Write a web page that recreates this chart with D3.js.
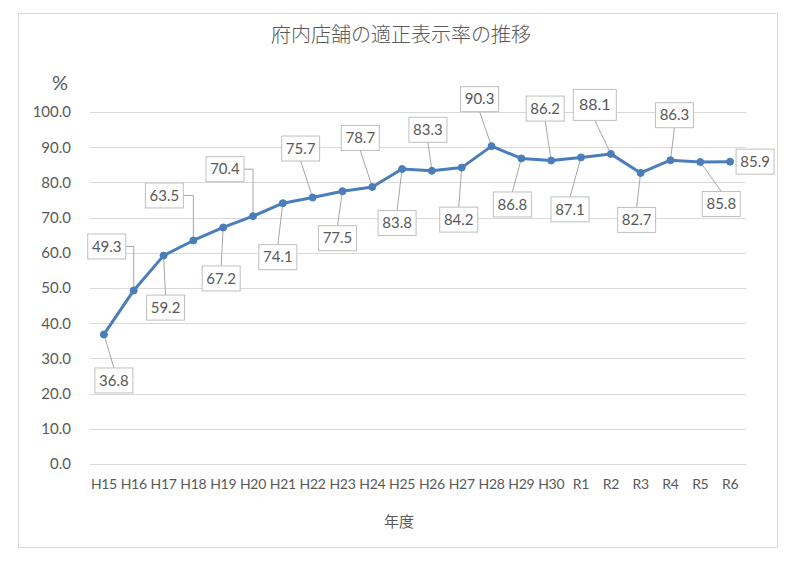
<!DOCTYPE html>
<html>
<head>
<meta charset="utf-8">
<script src="https://cdn.jsdelivr.net/npm/d3@7"></script>
<style>
  html, body { margin: 0; padding: 0; background: #fff; }
  svg { display: block; }
  text { font-family: Lato, "Noto Sans", sans-serif; fill: #595959; }
  .cjk { font-family: "Noto Sans CJK JP", sans-serif; }
</style>
</head>
<body>
<svg id="chart" width="798" height="564"></svg>
<script>
const title = "府内店舗の適正表示率の推移";
const xTitle = "年度";
const yUnit = "%";
const categories = ["H15","H16","H17","H18","H19","H20","H21","H22","H23","H24","H25","H26","H27","H28","H29","H30","R1","R2","R3","R4","R5","R6"];
const values = [36.8,49.3,59.2,63.5,67.2,70.4,74.1,75.7,77.5,78.7,83.8,83.3,84.2,90.3,86.8,86.2,87.1,88.1,82.7,86.3,85.8,85.9];
const yTicks = [0,10,20,30,40,50,60,70,80,90,100];

// label layout (pixel offsets of label box centre from the point; elbow = leader drawn with corner)
const labelDx = [10,-27,2,-29,-2,-28,-5,-12,-5,-12,-5,-4,-3,-12,-9,-6,-11,-16,-4,4,21,25];
const labelDy = [46,-44,52,-45,51,-47,54,-49,47,-49,54,-41,52,-47,46,-52,52,-49,47,-45,42,0];
const labelElbow = [false,true,false,true,false,true,false,false,false,false,false,false,false,false,false,false,false,false,false,false,false,false];

const svg = d3.select("#chart");

// outer chart area border
svg.append("rect").attr("x", 18.5).attr("y", 13.5).attr("width", 759).attr("height", 534)
  .attr("fill", "#fff").attr("stroke", "#d9d9d9").attr("stroke-width", 1);

const margin = { left: 90, right: 746, top: 112, bottom: 464 };
const x = d3.scaleBand().domain(categories).range([margin.left - 1, margin.right - 1]);
const y = d3.scaleLinear().domain([0, 100]).range([margin.bottom, margin.top]);

// gridlines
svg.append("g").selectAll("line").data(yTicks).join("line")
  .attr("x1", margin.left).attr("x2", margin.right)
  .attr("y1", d => Math.round(y(d)) + 0.5).attr("y2", d => Math.round(y(d)) + 0.5)
  .attr("stroke", "#d9d9d9").attr("stroke-width", 1);

// y axis
const yAxis = d3.axisLeft(y).tickValues(yTicks).tickFormat(d3.format(".1f")).tickSize(0).tickPadding(0);
const gy = svg.append("g").attr("transform", `translate(${71},0)`).call(yAxis);
gy.select(".domain").remove();
gy.selectAll("text").attr("font-size", 15).attr("fill", "#595959")
  .style("font-family", "Lato, sans-serif");

// x axis
const xAxis = d3.axisBottom(x).tickSize(0).tickPadding(0);
const gx = svg.append("g").attr("transform", `translate(0,${479})`).call(xAxis);
gx.select(".domain").remove();
gx.selectAll("text").attr("font-size", 14).attr("fill", "#595959")
  .style("font-family", "Lato, sans-serif").style("letter-spacing", "-0.3px");

// titles
svg.append("text").attr("class", "cjk").attr("x", 401).attr("y", 42)
  .attr("text-anchor", "middle").attr("font-size", 20).attr("font-weight", 300)
  .text(title);
svg.append("text").attr("x", 60).attr("y", 90).attr("text-anchor", "middle")
  .attr("font-size", 20).text(yUnit);
svg.append("text").attr("class", "cjk").attr("x", 399).attr("y", 527)
  .attr("text-anchor", "middle").attr("font-size", 15).text(xTitle);

const cx = (d, i) => x(categories[i]) + x.bandwidth() / 2;
const cy = d => y(d);

// leader lines and label boxes
const bw = 38, bh = 25;
const lbl = svg.append("g");
values.forEach((v, i) => {
  const px = cx(v, i), py = cy(v);
  const bx = px + labelDx[i], by = py + labelDy[i];
  const big = (categories[i] === "R2");
  const w = big ? 43 : bw, h = big ? 31 : bh;
  if (labelElbow[i]) {
    lbl.append("polyline")
      .attr("points", `${bx + w / 2},${by} ${px},${by} ${px},${py}`)
      .attr("fill", "none").attr("stroke", "#a6a6a6").attr("stroke-width", 1);
  } else if (labelDy[i] !== 0) {
    const ey = labelDy[i] > 0 ? by - h / 2 : by + h / 2;
    lbl.append("line").attr("x1", px).attr("y1", py).attr("x2", bx).attr("y2", ey)
      .attr("stroke", "#a6a6a6").attr("stroke-width", 1);
  }
  lbl.append("rect").attr("x", bx - w / 2).attr("y", by - h / 2).attr("width", w).attr("height", h)
    .attr("fill", "#fff").attr("stroke", "#bfbfbf").attr("stroke-width", 1);
  lbl.append("text").attr("x", bx).attr("y", by).attr("dy", "0.35em")
    .attr("text-anchor", "middle").attr("font-size", big ? 16 : 15)
    .text(d3.format(".1f")(v));
});

// line
const line = d3.line().x((d, i) => cx(d, i)).y(d => cy(d));
svg.append("path").datum(values).attr("d", line)
  .attr("fill", "none").attr("stroke", "#4a7ebb").attr("stroke-width", 3)
  .attr("stroke-linejoin", "round").attr("stroke-linecap", "round");

svg.append("g").selectAll("circle").data(values).join("circle")
  .attr("cx", (d, i) => cx(d, i)).attr("cy", d => cy(d)).attr("r", 3.5)
  .attr("fill", "#4a7ebb").attr("stroke", "#4a7ebb");
</script>
</body>
</html>
